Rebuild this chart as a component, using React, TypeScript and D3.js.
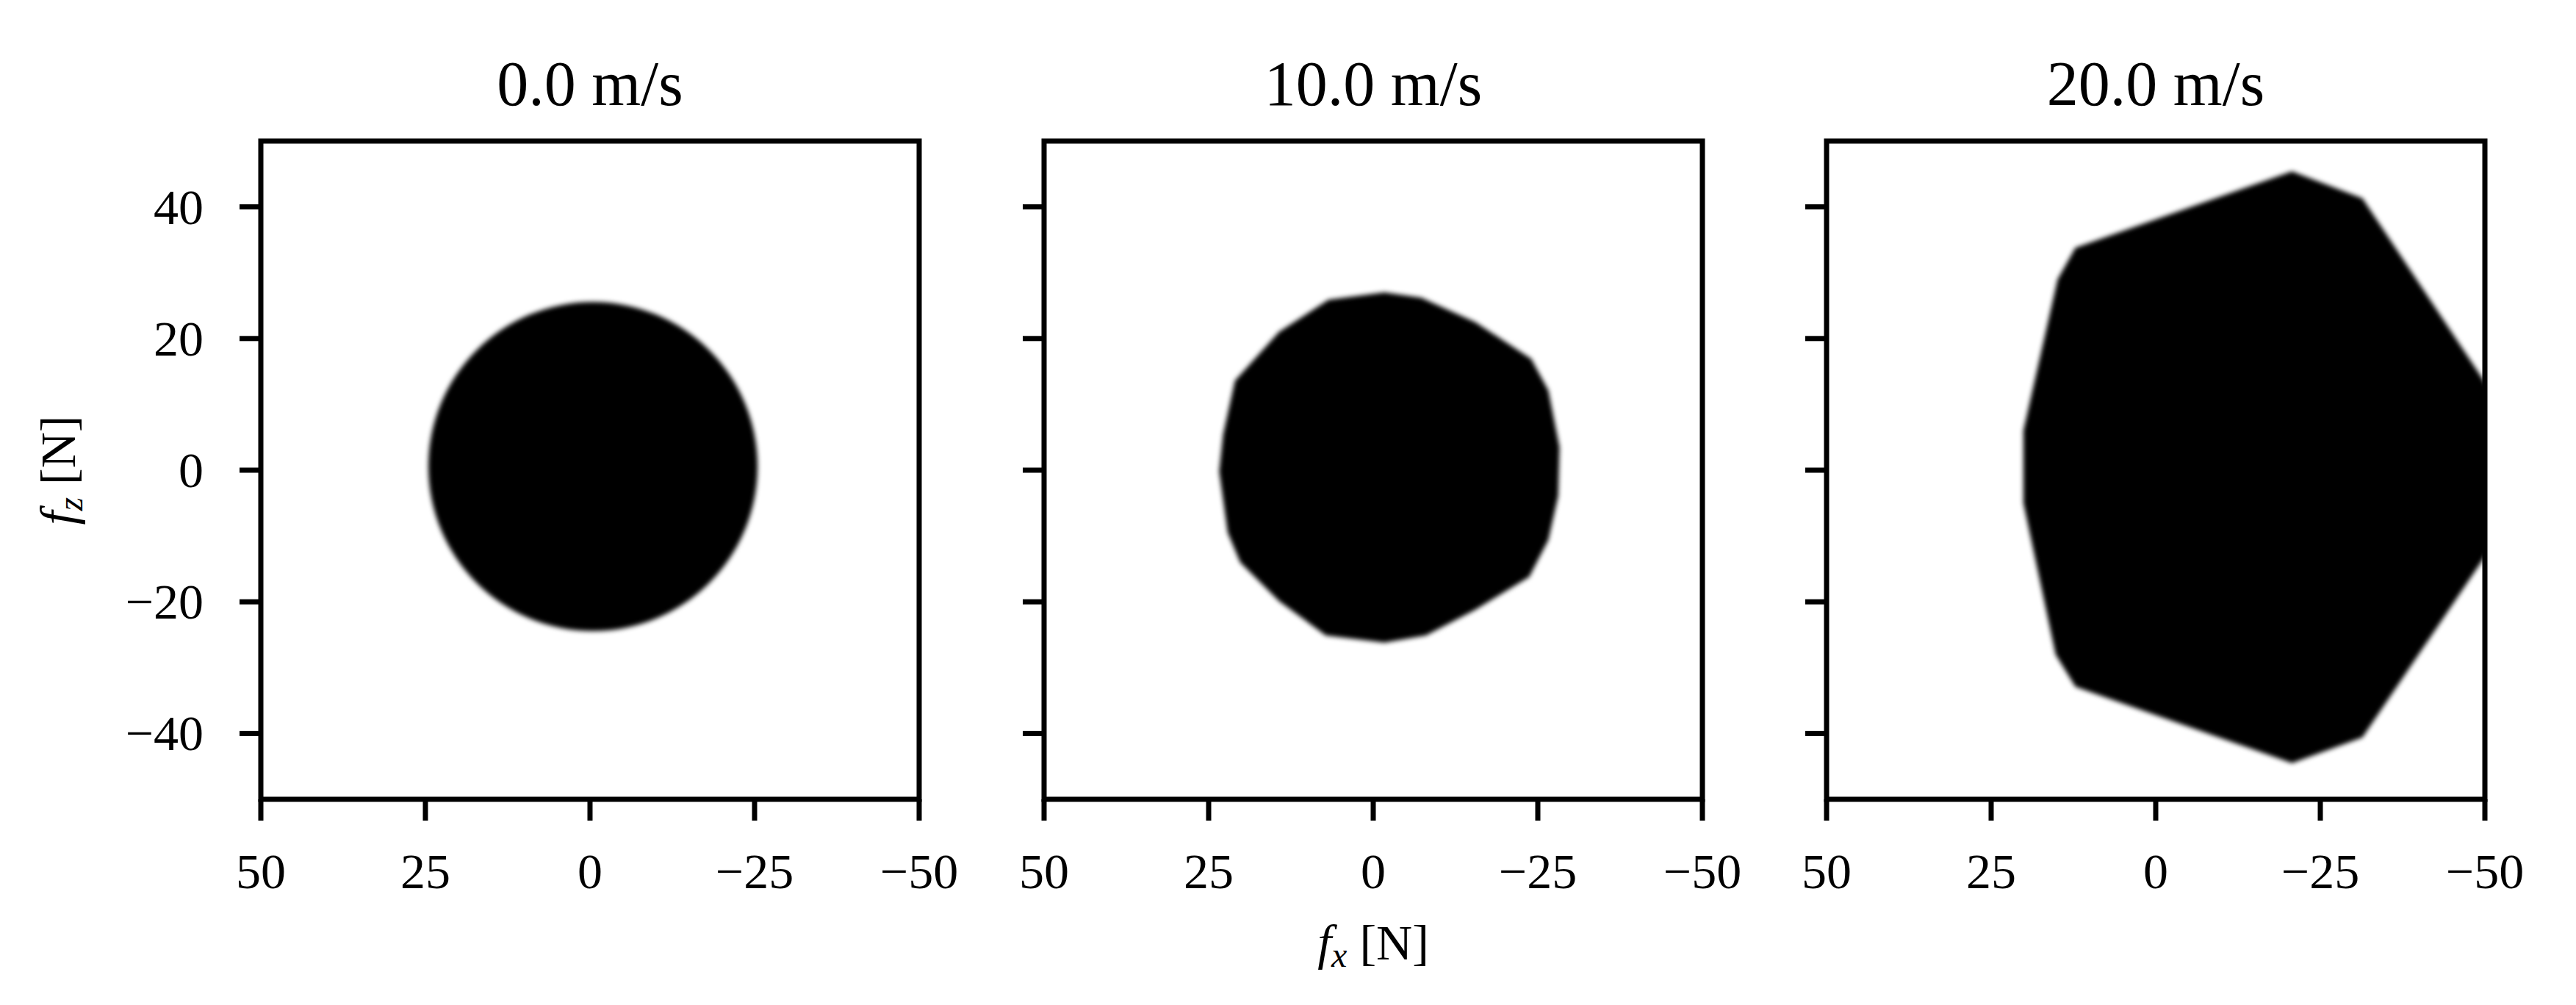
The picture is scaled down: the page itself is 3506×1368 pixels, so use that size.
import React from "react";
import * as d3 from "d3";

const W = 3506;
const H = 1368;

// ---- data ----
const panelTitles = ["0.0 m/s", "10.0 m/s", "20.0 m/s"];
const xTicks = [50, 25, 0, -25, -50];
const yTicks = [40, 20, 0, -20, -40];
const xDomain = [50, -50];
const yDomain = [-50, 50];

// panel 1: near-circular region (fx, fz centre and radius in N)
const circleCenter = [-0.45, 0.55];
const circleRadius = [25.0];

// panel 2: rounded region outline
const shape10Fx = [-1.7, -7.3, -15.5, -24.0, -26.6, -28.3, -28.1, -26.6, -23.7, -15.5, -8.0, -1.7, 7.2, 14.3, 20.2, 22.1, 23.4, 22.8, 21.0, 14.3, 6.8];
const shape10Fz = [27.0, 26.2, 22.5, 16.9, 12.1, 3.5, -3.9, -10.6, -16.2, -21.2, -25.1, -26.2, -25.1, -19.9, -14.0, -9.5, -0.2, 5.4, 13.6, 21.0, 25.9];

// panel 3: polygon region (extends past the right axis limit)
const shape20Fx = [-20.7, -31.4, -58.9, -31.4, -20.7, 12.2, 15.2, 20.1, 20.1, 14.9, 12.2];
const shape20Fz = [45.4, 41.3, 0, -40.6, -44.5, -32.9, -28.0, -5.0, 6.0, 29.0, 33.8];

// ---- layout ----
const panelLeft = [355, 1421, 2486];
const panelTop = 192;
const panelSize = 896;
const FONT = "'Liberation Serif', 'DejaVu Serif', serif";
const TICK_FS = 68;
const TITLE_FS = 86;
const LW = 7;
const TICK_LEN = 29;

function Panel({ idx }: { idx: number }) {
  const left = panelLeft[idx];
  const x = d3.scaleLinear().domain(xDomain).range([left, left + panelSize]);
  const y = d3.scaleLinear().domain(yDomain).range([panelTop + panelSize, panelTop]);

  let shape: React.ReactNode = null;
  if (idx === 0) {
    const cx = x(circleCenter[0]);
    const cy = y(circleCenter[1]);
    const rx = Math.abs(x(circleRadius[0]) - x(0));
    const ry = Math.abs(y(circleRadius[0]) - y(0));
    shape = <ellipse cx={cx} cy={cy} rx={rx} ry={ry} fill="#000" filter="url(#soft)" />;
  } else {
    const fx = idx === 1 ? shape10Fx : shape20Fx;
    const fz = idx === 1 ? shape10Fz : shape20Fz;
    const pts = fx.map((v, i) => [v, fz[i]] as [number, number]);
    const line = d3
      .line<[number, number]>()
      .x((d) => x(d[0]))
      .y((d) => y(d[1]))
      .curve(d3.curveLinearClosed);
    shape = <path d={line(pts) || ""} fill="#000" filter="url(#soft)" />;
  }

  const bottom = panelTop + panelSize;
  const cxPanel = left + panelSize / 2;

  return (
    <g>
      <clipPath id={`clip${idx}`}>
        <rect x={left} y={panelTop} width={panelSize} height={panelSize} />
      </clipPath>
      <g clipPath={`url(#clip${idx})`}>{shape}</g>
      <rect
        x={left}
        y={panelTop}
        width={panelSize}
        height={panelSize}
        fill="none"
        stroke="#000"
        strokeWidth={LW}
      />
      {xTicks.map((t) => (
        <g key={`xt${t}`}>
          <line x1={x(t)} x2={x(t)} y1={bottom} y2={bottom + TICK_LEN} stroke="#000" strokeWidth={LW} />
          <text
            x={x(t)}
            y={1209}
            textAnchor="middle"
            fontFamily={FONT}
            fontSize={TICK_FS}
            fill="#000"
          >
            {t < 0 ? `\u2212${Math.abs(t)}` : `${t}`}
          </text>
        </g>
      ))}
      {yTicks.map((t) => (
        <g key={`yt${t}`}>
          <line x1={left - TICK_LEN} x2={left} y1={y(t)} y2={y(t)} stroke="#000" strokeWidth={LW} />
          {idx === 0 && (
            <text
              x={277}
              y={y(t) + 23}
              textAnchor="end"
              fontFamily={FONT}
              fontSize={TICK_FS}
              fill="#000"
            >
              {t < 0 ? `\u2212${Math.abs(t)}` : `${t}`}
            </text>
          )}
        </g>
      ))}
      <text
        x={cxPanel}
        y={143}
        textAnchor="middle"
        fontFamily={FONT}
        fontSize={TITLE_FS}
        fill="#000"
      >
        {panelTitles[idx]}
      </text>
    </g>
  );
}

export default function App() {
  return (
    <div style={{ position: "absolute", left: 0, top: 0 }}>
      <svg width={W} height={H} viewBox={`0 0 ${W} ${H}`} style={{ display: "block", background: "#fff" }}>
        <defs>
          <filter id="soft" x="-20%" y="-20%" width="140%" height="140%">
            <feGaussianBlur stdDeviation={3} />
          </filter>
        </defs>
        <rect x={0} y={0} width={W} height={H} fill="#fff" />
        {[0, 1, 2].map((i) => (
          <Panel key={i} idx={i} />
        ))}
        <text
          x={panelLeft[1] + panelSize / 2}
          y={1306}
          textAnchor="middle"
          fontFamily={FONT}
          fontSize={TICK_FS}
          fill="#000"
        >
          <tspan fontStyle="italic">f</tspan>
          <tspan fontStyle="italic" fontSize={48} dy={10}>x</tspan>
          <tspan dy={-10}> [N]</tspan>
        </text>
        <text
          transform={`translate(102, ${panelTop + panelSize / 2}) rotate(-90)`}
          textAnchor="middle"
          fontFamily={FONT}
          fontSize={TICK_FS}
          fill="#000"
        >
          <tspan fontStyle="italic">f</tspan>
          <tspan fontStyle="italic" fontSize={48} dy={10}>z</tspan>
          <tspan dy={-10}> [N]</tspan>
        </text>
      </svg>
    </div>
  );
}
